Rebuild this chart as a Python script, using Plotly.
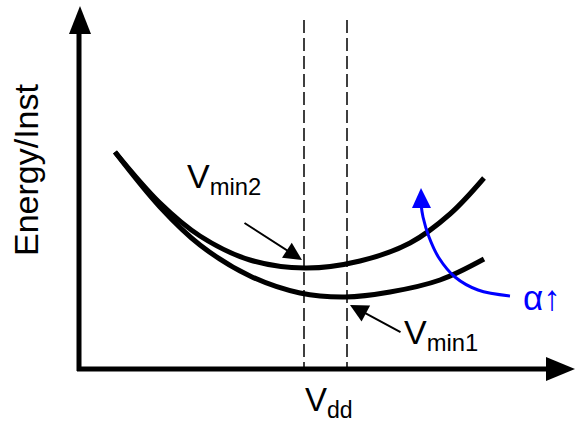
import plotly.graph_objects as go

# Canvas-sized coordinate frame (x to the right, y downward)
W, H = 575, 424

# Energy-per-instruction curves vs supply voltage (schematic)
upper_x = [115, 160, 200, 250, 305, 360, 410, 450, 484]
upper_y = [152, 203, 236, 260, 268, 261, 243, 214, 178]
lower_x = [115, 160, 200, 250, 300, 345, 390, 440, 484]
lower_y = [152, 207, 245, 276, 293, 297, 292, 280, 259]

# Blue "alpha increases" arc
alpha_x = [510, 478, 455, 439, 429, 423, 421]
alpha_y = [296, 290, 277, 258, 237, 217, 204]

# Minimum-energy voltage markers
vmin_x = [304, 347]
dash_top, axis_y, axis_x = 20, 369, 79

FONT = "Arial, Liberation Sans, sans-serif"

fig = go.Figure()

for xs, ys in [(upper_x, upper_y), (lower_x, lower_y)]:
    fig.add_trace(go.Scatter(x=xs, y=ys, mode="lines", line=dict(color="black", width=5, shape="spline"),
                             hoverinfo="skip", showlegend=False))

fig.add_trace(go.Scatter(x=alpha_x, y=alpha_y, mode="lines", line=dict(color="#0000ff", width=3, shape="spline"),
                         hoverinfo="skip", showlegend=False))

shapes = []
for vx in vmin_x:
    shapes.append(dict(type="line", x0=vx, x1=vx, y0=dash_top, y1=axis_y, xref="x", yref="y",
                       line=dict(color="black", width=1.5, dash="13px,5px")))
# axes
shapes.append(dict(type="line", x0=axis_x, x1=axis_x, y0=axis_y + 2, y1=30, xref="x", yref="y",
                   line=dict(color="black", width=5)))
shapes.append(dict(type="line", x0=axis_x - 2, x1=550, y0=axis_y, y1=axis_y, xref="x", yref="y",
                   line=dict(color="black", width=5)))
# arrow heads of axes
shapes.append(dict(type="path", path=f"M {axis_x-10} 34 L {axis_x+1} 6 L {axis_x+12} 34 Z",
                   xref="x", yref="y", fillcolor="black", line=dict(width=0)))
shapes.append(dict(type="path", path=f"M 546 {axis_y-12} L 575 {axis_y} L 546 {axis_y+12} Z",
                   xref="x", yref="y", fillcolor="black", line=dict(width=0)))
# blue arc head
shapes.append(dict(type="path", path="M 412 208 L 421 188 L 431 208 Z",
                   xref="x", yref="y", fillcolor="#0000ff", line=dict(width=0)))

annotations = [
    # Vmin pointers
    dict(x=302, y=260, ax=243, ay=222, xref="x", yref="y", axref="x", ayref="y", text="",
         showarrow=True, arrowhead=2, arrowsize=1.8, arrowwidth=2, arrowcolor="black"),
    dict(x=350, y=305, ax=402, ay=333, xref="x", yref="y", axref="x", ayref="y", text="",
         showarrow=True, arrowhead=2, arrowsize=1.8, arrowwidth=2, arrowcolor="black"),
    dict(x=224, y=178, xref="x", yref="y", text="V<sub>min2</sub>", showarrow=False,
         font=dict(family=FONT, size=34, color="black"), xanchor="center", yanchor="middle"),
    dict(x=441, y=334, xref="x", yref="y", text="V<sub>min1</sub>", showarrow=False,
         font=dict(family=FONT, size=34, color="black"), xanchor="center", yanchor="middle"),
    dict(x=329, y=402, xref="x", yref="y", text="V<sub>dd</sub>", showarrow=False,
         font=dict(family=FONT, size=33, color="black"), xanchor="center", yanchor="middle"),
    dict(x=26, y=170, xref="x", yref="y", text="Energy/Inst", showarrow=False, textangle=-90,
         font=dict(family=FONT, size=34, color="black"), xanchor="center", yanchor="middle"),
    dict(x=542, y=297, xref="x", yref="y", text="α↑", showarrow=False,
         font=dict(family=FONT, size=35, color="#0000ff"), xanchor="center", yanchor="middle"),
]

fig.update_layout(
    width=W, height=H, margin=dict(l=0, r=0, t=0, b=0),
    paper_bgcolor="white", plot_bgcolor="white",
    xaxis=dict(range=[0, W], visible=False, fixedrange=True),
    yaxis=dict(range=[H, 0], visible=False, fixedrange=True),
    shapes=shapes, annotations=annotations, showlegend=False,
)

fig.write_html("out.html", config={"displayModeBar": False})
